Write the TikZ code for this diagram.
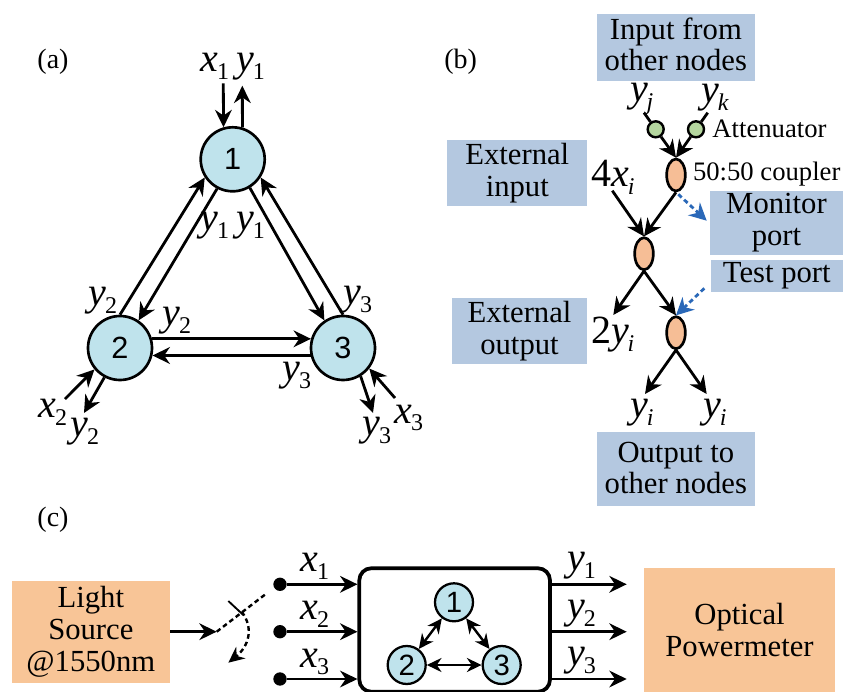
\documentclass[tikz,border=0pt]{standalone}
\usepackage{fontspec}
\setmainfont{Liberation Serif}
\newfontfamily\digitfont{Liberation Sans}
\usetikzlibrary{arrows.meta,shapes.geometric}
\definecolor{nodeblue}{HTML}{BFE3EC}
\definecolor{boxblue}{HTML}{B4C8E0}
\definecolor{boxorange}{HTML}{F8C597}
\definecolor{couplerfill}{HTML}{F6BE96}
\definecolor{attfill}{HTML}{B5D79F}
\definecolor{dashblue}{HTML}{2A68B8}
\newcommand\vr[2]{\textit{#1}\kern-1pt\raisebox{-.42ex}{\fontsize{18}{18}\selectfont #2}}
\newcommand\vi[2]{\textit{#1}\kern-1pt\raisebox{-.42ex}{\fontsize{18}{18}\selectfont\itshape #2}}
\tikzset{
  ar/.style={-{Stealth[length=13pt,width=12.5pt]},line width=2.1pt,black},
  dbl/.style={{Stealth[length=11pt,width=10.5pt]}-{Stealth[length=11pt,width=10.5pt]},line width=1.8pt,black},
  plain/.style={line width=2.1pt,black},
  dar/.style={-{Stealth[length=13pt,width=13pt]},line width=2.1pt,dashblue,dash pattern=on 3.5pt off 2.5pt},
  bar/.style={-{Stealth[length=12pt,width=11pt]},line width=1.8pt,black,dash pattern=on 3.5pt off 2.5pt},
  bigc/.style={circle,draw=black,line width=2pt,fill=nodeblue,minimum size=48pt,inner sep=0pt,font=\digitfont\fontsize{23}{23}\selectfont},
  smallc/.style={circle,draw=black,line width=1.7pt,fill=nodeblue,minimum size=28.5pt,inner sep=0pt,font=\digitfont\fontsize{22}{22}\selectfont},
  lab/.style={inner sep=0pt,font=\fontsize{30}{30}\selectfont},
  ttl/.style={inner sep=0pt,font=\fontsize{21}{21}\selectfont},
  small/.style={inner sep=0pt,font=\fontsize{20}{20}\selectfont},
  bbox/.style={fill=boxblue,inner sep=0pt,align=center,font=\fontsize{23}{24}\selectfont},
  obox/.style={fill=boxorange,inner sep=0pt,align=center,font=\fontsize{23}{24}\selectfont},
  btxt/.style={inner sep=0pt,align=center,font=\fontsize{23}{23.5}\selectfont},
  coupler/.style={ellipse,draw=black,line width=2pt,fill=couplerfill,minimum width=14pt,minimum height=24pt,inner sep=0pt},
  att/.style={circle,draw=black,line width=1.8pt,fill=attfill,minimum size=12pt,inner sep=0pt},
  term/.style={circle,fill=black,minimum size=10pt,inner sep=0pt},
}
\begin{document}
\begin{tikzpicture}[x=.75pt,y=-.75pt]
\useasboundingbox (0,0) rectangle (843,692);
\fill[white] (0,0) rectangle (843,692);
% ---- (a)
\node[ttl] (ta) at (53,61.5) {(a)};
\node[bigc] (n1) at (232.7,159.3) {1};
\node[bigc] (n2) at (120,348) {2};
\node[bigc] (n3) at (343,348) {3};
\draw[ar] (n2.90) -- (n1.213);
\draw[ar] (n1.242) -- (n2.56);
\draw[ar] (n1.-59) -- (n3.124);
\draw[ar] (n3.90) -- (n1.-33);
\draw[ar] (n2.16) -- (n3.164);
\draw[ar] (n3.193) -- (n2.-13);
\coordinate (i1) at (223.3,83.3);
\coordinate (u1) at (242.3,85.7);
\coordinate (i2) at (65,399);
\coordinate (u2) at (84,413);
\coordinate (i3) at (395,398);
\coordinate (u3) at (373,413);
\draw[ar] (i1) -- (n1.106);
\draw[ar] (n1.73) -- (u1);
\draw[ar] (i2) -- (n2.220);
\draw[ar] (n2.242) -- (u2);
\draw[ar] (i3) -- (n3.-38);
\draw[ar] (n3.-58) -- (u3);
\node[lab] (a1) at (215,66) {\vr{x}{1}};
\node[lab] (a2) at (250.7,67) {\vr{y}{1}};
\node[lab] (a3) at (215,226) {\vr{y}{1}};
\node[lab] (a4) at (250.7,226) {\vr{y}{1}};
\node[lab] (a5) at (103,301) {\vr{y}{2}};
\node[lab] (a6) at (358,300) {\vr{y}{3}};
\node[lab] (a7) at (177,321) {\vr{y}{2}};
\node[lab] (a8) at (297,376) {\vr{y}{3}};
\node[lab] (a9) at (53,412) {\vr{x}{2}};
\node[lab] (a10) at (85,432) {\vr{y}{2}};
\node[lab] (a11) at (377,431) {\vr{y}{3}};
\node[lab] (a12) at (409,418) {\vr{x}{3}};
% ---- (b)
\node[ttl] (tb) at (460.7,61.5) {(b)};
\node[bbox,minimum width=118.7pt,minimum height=49.8pt,label={[btxt,yshift=2.2pt]center:{Input from\\other nodes}}] (binp) at (675.85,47.5) {};
\node[bbox,minimum width=105pt,minimum height=49.3pt] (bext) at (517.3,172.85) {External\\input};
\node[bbox,minimum width=99.75pt,minimum height=48.2pt] (bmon) at (776.5,222.85) {Monitor\\port};
\node[bbox,minimum width=99.2pt,minimum height=24.2pt] (btest) at (776.85,276.15) {Test port};
\node[bbox,minimum width=101.7pt,minimum height=49.7pt] (bout) at (519.5,330.85) {External\\output};
\node[bbox,minimum width=118.7pt,minimum height=55.3pt,label={[btxt,yshift=1pt]center:{Output to\\other nodes}}] (both) at (675.85,469.15) {};
\node[coupler] (c1) at (676,175) {};
\node[coupler] (c2) at (644,253.7) {};
\node[coupler] (c3) at (676,332.7) {};
\node[att] (at1) at (655.7,129.3) {};
\node[att] (at2) at (696,129.3) {};
\coordinate (j) at (644,112.7);
\coordinate (k) at (707.7,112.7);
\coordinate (x4) at (612.3,190.7);
\coordinate (y2i) at (613.3,315);
\coordinate (yl) at (645,394);
\coordinate (yr) at (706.7,394);
\coordinate (mon) at (678.3,194.3);
\coordinate (monend) at (706.7,220.7);
\coordinate (tst) at (704.3,288.3);
\draw[plain] (j) -- (at1);
\draw[plain] (k) -- (at2);
\draw[ar] (at1) -- (c1.north);
\draw[ar] (at2) -- (c1.north);
\draw[ar] (c1.south) -- (c2.north);
\draw[ar] (x4) -- (c2.north);
\draw[ar] (c2.south) -- (y2i);
\draw[ar] (c2.south) -- (c3.north);
\draw[ar] (c3.south) -- (yl);
\draw[ar] (c3.south) -- (yr);
\draw[dar] (mon) -- (monend);
\draw[dar] (tst) -- (c3.north);
\node[lab] (bj) at (641.7,99) {\vi{y}{j}};
\node[lab] (bk) at (715,98) {\vi{y}{k}};
\node[lab] (b4) at (613,177) {4\vi{x}{i}};
\node[lab] (b2) at (612.7,335) {2\vi{y}{i}};
\node[lab] (bl) at (642,413) {\vi{y}{i}};
\node[lab] (br) at (715,413) {\vi{y}{i}};
\node[small] (batt) at (769.5,129) {Attenuator};
\node[small] (bcpl) at (766.7,174) {50:50 coupler};
% ---- (c)
\node[ttl] (tc) at (53,520) {(c)};
\node[obox,minimum width=118.7pt,minimum height=76.7pt] (light) at (90.85,632.15) {Light\\Source\\@1550nm};
\node[obox,minimum width=143.25pt,minimum height=92.8pt] (meter) at (739.5,630.15) {Optical\\Powermeter};
\node[draw=black,line width=2.8pt,rounded corners=9pt,fill=white,minimum width=143pt,minimum height=92.6pt,inner sep=0pt] (chip) at (454.65,630) {};
\node[term] (t1) at (280,584.3) {};
\node[term] (t2) at (280,631.7) {};
\node[term] (t3) at (280,679) {};
\coordinate (sw) at (216.7,631.7);
\coordinate (swend) at (266.7,593.3);
\coordinate (tk1) at (228.3,601);
\coordinate (tk2) at (243.3,615);
\coordinate (cv1) at (241.7,611.7);
\coordinate (cv2) at (228.3,662.7);
\draw[ar] (light.east |- sw) -- (sw);
\draw[line width=1.8pt,dash pattern=on 3.5pt off 2.5pt] (sw) -- (swend);
\draw[line width=1.4pt] (tk1) -- (tk2);
\draw[bar] (cv1) .. controls (254,628) and (249,646) .. (cv2);
\draw[ar] (t1) -- (chip.west |- t1);
\draw[ar] (t2) -- (chip.west |- t2);
\draw[ar] (t3) -- (chip.west |- t3);
\coordinate (o1) at (626.7,584.3);
\coordinate (o2) at (626.7,631.7);
\coordinate (o3) at (626.7,679);
\draw[ar] (chip.east |- o1) -- (o1);
\draw[ar] (chip.east |- o2) -- (o2);
\draw[ar] (chip.east |- o3) -- (o3);
\node[smallc] (s1) at (454,602.3) {1};
\node[smallc] (s2) at (406.7,665) {2};
\node[smallc] (s3) at (501.7,665) {3};
\draw[dbl] (s1) -- (s2);
\draw[dbl] (s1) -- (s3);
\draw[dbl] (s2) -- (s3);
\node[lab] (c1x) at (315,566) {\vr{x}{1}};
\node[lab] (c2x) at (315,614) {\vr{x}{2}};
\node[lab] (c3x) at (315,662) {\vr{x}{3}};
\node[lab] (c1y) at (581.7,566) {\vr{y}{1}};
\node[lab] (c2y) at (581.7,614) {\vr{y}{2}};
\node[lab] (c3y) at (581.7,661) {\vr{y}{3}};
\end{tikzpicture}
\end{document}
